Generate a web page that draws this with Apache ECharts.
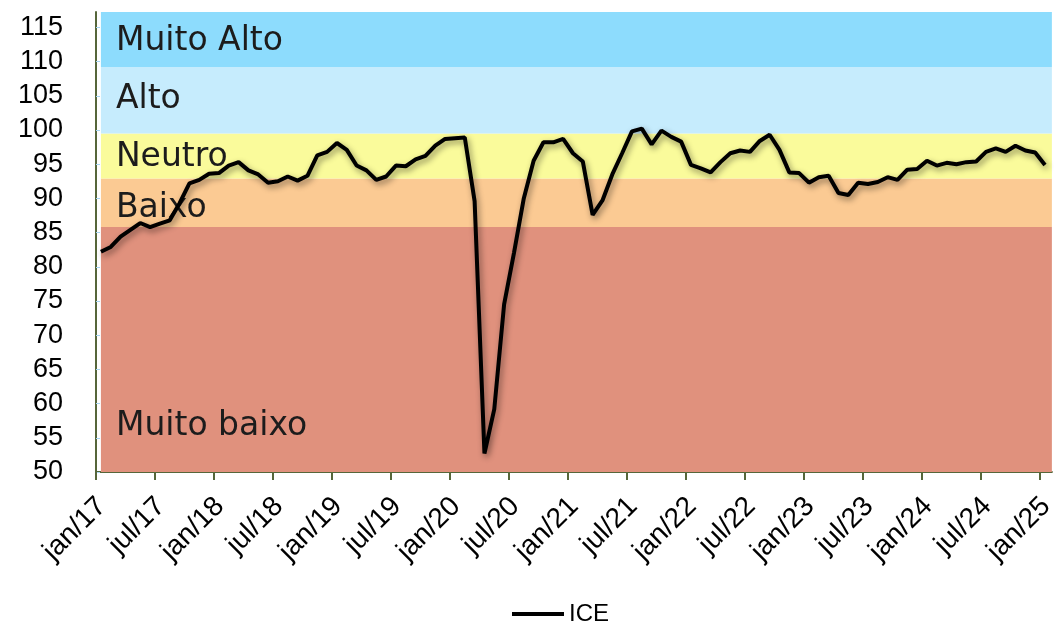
<!DOCTYPE html>
<html>
<head>
<meta charset="utf-8">
<title>ICE</title>
<script src="https://cdn.jsdelivr.net/npm/echarts@6/dist/echarts.min.js"></script>
<style>
  html, body { margin: 0; padding: 0; background: #ffffff; }
  #chart { width: 1058px; height: 626px; }
</style>
</head>
<body>
<div id="chart"></div>
<script>
// Monthly periods, jan/17 .. jan/25
const months = [
  'jan/17','fev/17','mar/17','abr/17','mai/17','jun/17','jul/17','ago/17','set/17','out/17','nov/17','dez/17',
  'jan/18','fev/18','mar/18','abr/18','mai/18','jun/18','jul/18','ago/18','set/18','out/18','nov/18','dez/18',
  'jan/19','fev/19','mar/19','abr/19','mai/19','jun/19','jul/19','ago/19','set/19','out/19','nov/19','dez/19',
  'jan/20','fev/20','mar/20','abr/20','mai/20','jun/20','jul/20','ago/20','set/20','out/20','nov/20','dez/20',
  'jan/21','fev/21','mar/21','abr/21','mai/21','jun/21','jul/21','ago/21','set/21','out/21','nov/21','dez/21',
  'jan/22','fev/22','mar/22','abr/22','mai/22','jun/22','jul/22','ago/22','set/22','out/22','nov/22','dez/22',
  'jan/23','fev/23','mar/23','abr/23','mai/23','jun/23','jul/23','ago/23','set/23','out/23','nov/23','dez/23',
  'jan/24','fev/24','mar/24','abr/24','mai/24','jun/24','jul/24','ago/24','set/24','out/24','nov/24','dez/24',
  'jan/25'
];

// ICE index values
const ice = [
  82.2, 82.9, 84.4, 85.4, 86.4, 85.8, 86.3, 86.8, 89.3, 92.2, 92.7, 93.6,
  93.7, 94.8, 95.3, 94.1, 93.5, 92.3, 92.5, 93.2, 92.6, 93.3, 96.3, 96.8,
  98.1, 97.1, 94.8, 94.1, 92.7, 93.2, 94.8, 94.7, 95.7, 96.2, 97.7, 98.7,
  98.8, 98.9, 89.6, 52.7, 59.2, 74.5, 82.0, 90.0, 95.5, 98.2, 98.2, 98.7,
  96.6, 95.4, 87.6, 89.7, 93.5, 96.6, 99.8, 100.2, 97.9, 99.9, 99.0, 98.3,
  94.9, 94.4, 93.8, 95.3, 96.6, 97.0, 96.8, 98.4, 99.3, 97.1, 93.8, 93.7,
  92.3, 93.1, 93.3, 90.8, 90.5, 92.3, 92.1, 92.4, 93.1, 92.7, 94.2, 94.3,
  95.5, 94.8, 95.2, 95.0, 95.3, 95.4, 96.8, 97.3, 96.8, 97.7, 97.0, 96.7,
  94.9
];

// Classification bands (lower / upper bound of each zone)
const bandNames = ['Muito baixo', 'Baixo', 'Neutro', 'Alto', 'Muito Alto'];
const bandFrom  = [50, 85.8, 92.9, 99.5, 109.2];
const bandTo    = [85.8, 92.9, 99.5, 109.2, 117.25];
const bandColors = ['#E0917D', '#FBCA93', '#FAFB9B', '#C6ECFD', '#8DDCFD'];
const bandLabelY = [199, 30, 24, 32, 29];

const yMin = 50, yMax = 117.25, yStep = 5;
const xMax = 97.2;

// jan / jul positions on the time axis
const tickIdx = months.map((m, i) => i).filter(i => /^(jan|jul)/.test(months[i]));
// labels sit slightly to the right of their tick
const labelPos = tickIdx.map(i => i + 0.6);

const seriesData = ice.map((v, i) => [i + 0.5, v]);

const bandAreas = bandNames.map((name, k) => [
  {
    name: name,
    xAxis: 0.5,
    yAxis: bandFrom[k],
    itemStyle: { color: bandColors[k] },
    label: {
      show: true,
      position: [15, bandLabelY[k]],
      verticalAlign: 'middle',
      align: 'left',
      color: '#1c1c1c',
      fontFamily: 'DejaVu Sans',
      fontSize: 33
    }
  },
  { xAxis: xMax, yAxis: bandTo[k] }
]);

const chart = echarts.init(document.getElementById('chart'), null, { renderer: 'canvas' });

chart.setOption({
  animation: false,
  backgroundColor: '#ffffff',
  grid: { left: 96, right: 1, top: 12, bottom: 154, containLabel: false },
  legend: {
    data: ['ICE'],
    left: 512,
    top: 602,
    padding: 0,
    icon: 'rect',
    itemWidth: 52,
    itemHeight: 4,
    itemStyle: { color: '#000000', borderWidth: 0 },
    textStyle: { fontFamily: 'Liberation Sans', fontSize: 24, color: '#000000' }
  },
  xAxis: {
    type: 'value',
    min: 0,
    max: xMax,
    splitLine: { show: false },
    axisLine: { show: true, lineStyle: { color: '#56663A', width: 2 } },
    axisTick: { show: true, customValues: tickIdx, length: 8, lineStyle: { color: '#56663A', width: 2 } },
    axisLabel: {
      customValues: labelPos,
      rotate: 45,
      margin: 30,
      fontFamily: 'Liberation Sans',
      fontSize: 28,
      color: '#000000',
      formatter: v => months[Math.floor(v)] || ''
    }
  },
  yAxis: {
    type: 'value',
    min: yMin,
    max: yMax,
    interval: yStep,
    splitLine: { show: false },
    axisLine: { show: true, lineStyle: { color: '#56663A', width: 2 } },
    axisTick: { show: true, inside: true, length: 4, lineStyle: { color: '#A9D6F2', width: 1 } },
    axisLabel: {
      showMaxLabel: false,
      margin: 33,
      fontFamily: 'Liberation Sans',
      fontSize: 27,
      color: '#000000'
    }
  },
  series: [{
    name: 'ICE',
    type: 'line',
    data: seriesData,
    symbol: 'none',
    showSymbol: false,
    z: 5,
    lineStyle: {
      color: '#000000',
      width: 4,
      shadowColor: 'rgba(0,0,0,0.45)',
      shadowBlur: 6,
      shadowOffsetX: 2,
      shadowOffsetY: 3
    },
    itemStyle: { color: '#000000' },
    markArea: {
      silent: true,
      z: 1,
      data: bandAreas
    }
  }]
});
</script>
</body>
</html>
